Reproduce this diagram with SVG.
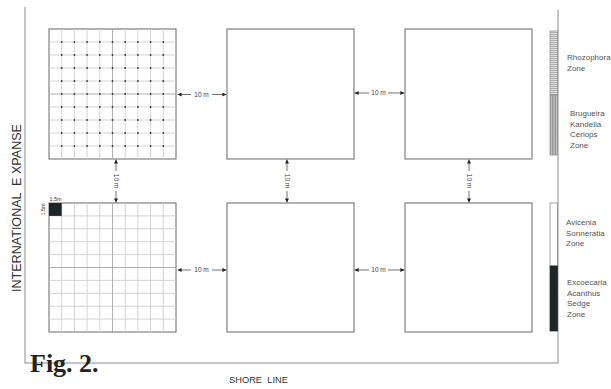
<svg xmlns="http://www.w3.org/2000/svg" width="611" height="389" viewBox="0 0 611 389">
<style>
.frame{fill:none;stroke:#b4b4b4;stroke-width:1.5}
.plot{fill:#fff;stroke:#808080;stroke-width:1.2}
.grid{fill:none;stroke:#cfcfcf;stroke-width:0.9}
.gridc{fill:none;stroke:#a8a8a8;stroke-width:0.9}
.dot{fill:#3a3a3a}
.arr{fill:none;stroke:#333;stroke-width:0.7}
.dim{font-family:"Liberation Sans",Arial,sans-serif;font-size:6.5px;fill:#444;text-anchor:middle}
.zone{font-family:"Liberation Sans",Arial,sans-serif;font-size:8px;fill:#555}
.small{font-family:"Liberation Sans",Arial,sans-serif;font-size:5.5px;fill:#333;text-anchor:middle}
</style>
<defs>
<marker id="ah" viewBox="0 0 6 6" refX="6" refY="3" markerWidth="5" markerHeight="4" markerUnits="userSpaceOnUse" orient="auto-start-reverse">
<path d="M0,0 L6,3 L0,6 Z" fill="#222"/>
</marker>
<pattern id="hstripe" width="4" height="2" patternUnits="userSpaceOnUse">
<rect width="4" height="2" fill="#e4e4e4"/>
<rect width="4" height="0.8" fill="#9a9a9a"/>
</pattern>
<pattern id="vstripe" width="1.6" height="4" patternUnits="userSpaceOnUse">
<rect width="1.6" height="4" fill="#c4c4c4"/>
<rect width="0.7" height="4" fill="#8c8c8c"/>
</pattern>
</defs>
<rect width="611" height="389" fill="#fff"/>

<g id="frame">
<path class="frame" d="M25,7 V363 H558 V10"/>
</g>

<g id="plot-1">
<rect class="plot" x="49" y="29" width="127" height="130"/>
<path class="grid" d="M61.7,29V159M74.4,29V159M87.1,29V159M99.8,29V159M125.2,29V159M137.9,29V159M150.6,29V159M163.3,29V159M49,42H176M49,55H176M49,68H176M49,81H176M49,107H176M49,120H176M49,133H176M49,146H176"/>
<path class="gridc" d="M112.5,29V159M49,94H176"/>
<g class="dot">
<circle cx="61.7" cy="42" r="0.9"/><circle cx="74.4" cy="42" r="0.9"/><circle cx="87.1" cy="42" r="0.9"/><circle cx="99.8" cy="42" r="0.9"/><circle cx="112.5" cy="42" r="0.9"/><circle cx="125.2" cy="42" r="0.9"/><circle cx="137.9" cy="42" r="0.9"/><circle cx="150.6" cy="42" r="0.9"/><circle cx="163.3" cy="42" r="0.9"/>
<circle cx="61.7" cy="55" r="0.9"/><circle cx="74.4" cy="55" r="0.9"/><circle cx="87.1" cy="55" r="0.9"/><circle cx="99.8" cy="55" r="0.9"/><circle cx="112.5" cy="55" r="0.9"/><circle cx="125.2" cy="55" r="0.9"/><circle cx="137.9" cy="55" r="0.9"/><circle cx="150.6" cy="55" r="0.9"/><circle cx="163.3" cy="55" r="0.9"/>
<circle cx="61.7" cy="68" r="0.9"/><circle cx="74.4" cy="68" r="0.9"/><circle cx="87.1" cy="68" r="0.9"/><circle cx="99.8" cy="68" r="0.9"/><circle cx="112.5" cy="68" r="0.9"/><circle cx="125.2" cy="68" r="0.9"/><circle cx="137.9" cy="68" r="0.9"/><circle cx="150.6" cy="68" r="0.9"/><circle cx="163.3" cy="68" r="0.9"/>
<circle cx="61.7" cy="81" r="0.9"/><circle cx="74.4" cy="81" r="0.9"/><circle cx="87.1" cy="81" r="0.9"/><circle cx="99.8" cy="81" r="0.9"/><circle cx="112.5" cy="81" r="0.9"/><circle cx="125.2" cy="81" r="0.9"/><circle cx="137.9" cy="81" r="0.9"/><circle cx="150.6" cy="81" r="0.9"/><circle cx="163.3" cy="81" r="0.9"/>
<circle cx="61.7" cy="94" r="0.9"/><circle cx="74.4" cy="94" r="0.9"/><circle cx="87.1" cy="94" r="0.9"/><circle cx="99.8" cy="94" r="0.9"/><circle cx="112.5" cy="94" r="0.9"/><circle cx="125.2" cy="94" r="0.9"/><circle cx="137.9" cy="94" r="0.9"/><circle cx="150.6" cy="94" r="0.9"/><circle cx="163.3" cy="94" r="0.9"/>
<circle cx="61.7" cy="107" r="0.9"/><circle cx="74.4" cy="107" r="0.9"/><circle cx="87.1" cy="107" r="0.9"/><circle cx="99.8" cy="107" r="0.9"/><circle cx="112.5" cy="107" r="0.9"/><circle cx="125.2" cy="107" r="0.9"/><circle cx="137.9" cy="107" r="0.9"/><circle cx="150.6" cy="107" r="0.9"/><circle cx="163.3" cy="107" r="0.9"/>
<circle cx="61.7" cy="120" r="0.9"/><circle cx="74.4" cy="120" r="0.9"/><circle cx="87.1" cy="120" r="0.9"/><circle cx="99.8" cy="120" r="0.9"/><circle cx="112.5" cy="120" r="0.9"/><circle cx="125.2" cy="120" r="0.9"/><circle cx="137.9" cy="120" r="0.9"/><circle cx="150.6" cy="120" r="0.9"/><circle cx="163.3" cy="120" r="0.9"/>
<circle cx="61.7" cy="133" r="0.9"/><circle cx="74.4" cy="133" r="0.9"/><circle cx="87.1" cy="133" r="0.9"/><circle cx="99.8" cy="133" r="0.9"/><circle cx="112.5" cy="133" r="0.9"/><circle cx="125.2" cy="133" r="0.9"/><circle cx="137.9" cy="133" r="0.9"/><circle cx="150.6" cy="133" r="0.9"/><circle cx="163.3" cy="133" r="0.9"/>
<circle cx="61.7" cy="146" r="0.9"/><circle cx="74.4" cy="146" r="0.9"/><circle cx="87.1" cy="146" r="0.9"/><circle cx="99.8" cy="146" r="0.9"/><circle cx="112.5" cy="146" r="0.9"/><circle cx="125.2" cy="146" r="0.9"/><circle cx="137.9" cy="146" r="0.9"/><circle cx="150.6" cy="146" r="0.9"/><circle cx="163.3" cy="146" r="0.9"/>
</g>
</g>

<g id="plot-2"><rect class="plot" x="227" y="29" width="127" height="130"/></g>
<g id="plot-3"><rect class="plot" x="405" y="29" width="127" height="130"/></g>

<g id="plot-4">
<rect class="plot" x="49" y="203" width="127" height="129"/>
<path class="grid" d="M61.7,203V332M74.4,203V332M87.1,203V332M99.8,203V332M125.2,203V332M137.9,203V332M150.6,203V332M163.3,203V332M49,215.9H176M49,228.8H176M49,241.7H176M49,254.6H176M49,280.4H176M49,293.3H176M49,306.2H176M49,319.1H176"/>
<path class="gridc" d="M112.5,203V332M49,267.5H176"/>
<rect x="49" y="203" width="12.7" height="12.9" fill="#1c2624"/>
<text class="small" x="55.5" y="200.5">1.5m</text>
<text class="small" transform="translate(45,209.5) rotate(-90)">1.5m</text>
</g>

<g id="plot-5"><rect class="plot" x="227" y="203" width="127" height="129"/></g>
<g id="plot-6"><rect class="plot" x="405" y="203" width="127" height="129"/></g>

<g id="connectors">
<path class="arr" d="M191,94.5H177.6" marker-end="url(#ah)"/>
<path class="arr" d="M212,94.5H226.4" marker-end="url(#ah)"/>
<text class="dim" x="201.5" y="96.8">10 m</text>
<path class="arr" d="M369,93H354.6" marker-end="url(#ah)"/>
<path class="arr" d="M388,93H404.4" marker-end="url(#ah)"/>
<text class="dim" x="378.5" y="95.3">10 m</text>
<path class="arr" d="M191,270H177.6" marker-end="url(#ah)"/>
<path class="arr" d="M212,270H226.4" marker-end="url(#ah)"/>
<text class="dim" x="201.5" y="272.3">10 m</text>
<path class="arr" d="M369,270H354.6" marker-end="url(#ah)"/>
<path class="arr" d="M388,270H404.4" marker-end="url(#ah)"/>
<text class="dim" x="378.5" y="272.3">10 m</text>
<path class="arr" d="M116,171V159.6" marker-end="url(#ah)"/>
<path class="arr" d="M116,191V202.4" marker-end="url(#ah)"/>
<text class="dim" transform="translate(113.7,181) rotate(90)">10 m</text>
<path class="arr" d="M287,171V159.6" marker-end="url(#ah)"/>
<path class="arr" d="M287,191V202.4" marker-end="url(#ah)"/>
<text class="dim" transform="translate(284.7,181) rotate(90)">10 m</text>
<path class="arr" d="M469,171V159.6" marker-end="url(#ah)"/>
<path class="arr" d="M469,191V202.4" marker-end="url(#ah)"/>
<text class="dim" transform="translate(466.7,181) rotate(90)">10 m</text>
</g>

<g id="zones">
<rect x="550" y="31" width="7.5" height="64" fill="url(#hstripe)" stroke="#8a8a8a" stroke-width="0.7"/>
<rect x="550" y="95" width="7.5" height="60" fill="url(#vstripe)" stroke="#8a8a8a" stroke-width="0.7"/>
<rect x="550" y="203" width="7.5" height="63" fill="#fff" stroke="#8a8a8a" stroke-width="0.8"/>
<rect x="550" y="266" width="7.5" height="65" fill="#1c2624" stroke="#1c2624" stroke-width="0.7"/>
<text class="zone" x="567" y="60">Rhozophora</text>
<text class="zone" x="567" y="71">Zone</text>
<text class="zone" x="570" y="116">Brugueira</text>
<text class="zone" x="570" y="126.5">Kandelia</text>
<text class="zone" x="570" y="137">Ceriops</text>
<text class="zone" x="570" y="147.5">Zone</text>
<text class="zone" x="566" y="225">Avicenia</text>
<text class="zone" x="566" y="235.5">Sonneratia</text>
<text class="zone" x="566" y="246">Zone</text>
<text class="zone" x="567" y="285">Excoecaria</text>
<text class="zone" x="567" y="295.5">Acanthus</text>
<text class="zone" x="567" y="306">Sedge</text>
<text class="zone" x="567" y="316.5">Zone</text>
</g>

<g id="labels">
<text transform="translate(20.5,292) rotate(-90)" style="white-space:pre" textLength="168" lengthAdjust="spacingAndGlyphs" font-family="Liberation Sans, Arial, sans-serif" font-size="13.5" fill="#333">INTERNATIONAL  E XPANSE</text>
<text x="229" y="383" style="white-space:pre" font-family="Liberation Sans, Arial, sans-serif" font-size="9.3" fill="#333">SHORE  LINE</text>
<text x="30" y="372" font-family="Liberation Serif, Times New Roman, serif" font-size="26" font-weight="bold" fill="#222">Fig. 2.</text>
</g>
</svg>
